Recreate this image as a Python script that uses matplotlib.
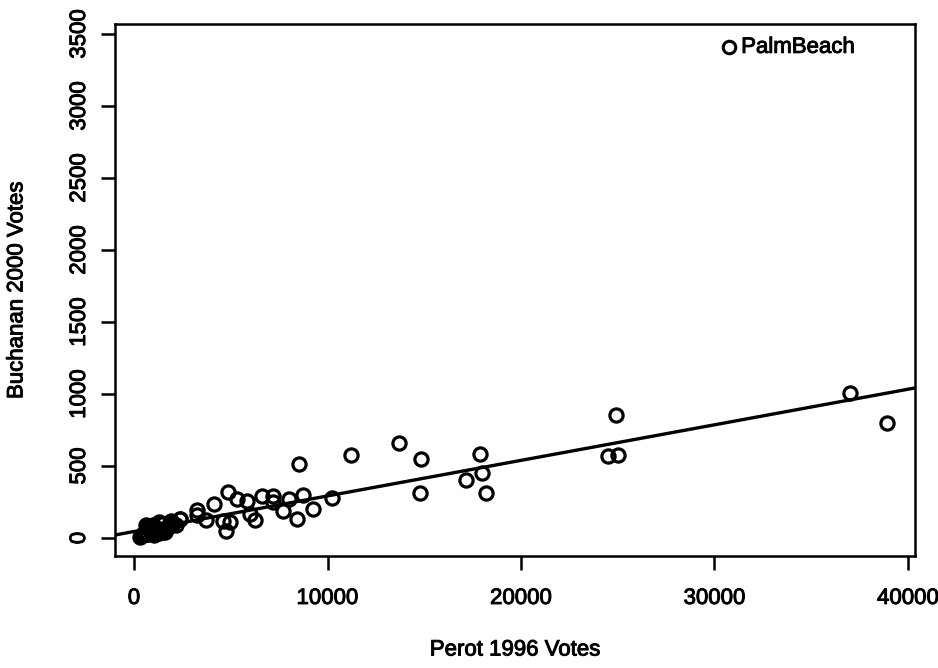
import numpy as np
import matplotlib.pyplot as plt
import matplotlib.patheffects as pe

plt.rcParams['font.family'] = ['Liberation Sans', 'DejaVu Sans']

# Perot 1996 vs Buchanan 2000 votes, Florida counties
perot = [
    37000, 38900, 24900, 24480, 25030, 13720, 14830, 17860, 18010, 17150,
    14800, 18190, 11230, 8516, 8720, 10240, 9270, 8440, 7700, 8000,
    7180, 7170, 6590, 5820, 5340, 4880, 4140, 4940, 4600, 4730,
    5970, 6245, 3260, 3230, 3700, 2390,
    316, 420, 440, 480, 520, 580, 630, 667, 690, 720,
    770, 820, 870, 970, 1010, 1050, 1100, 1120, 1270, 1280,
    1440, 1500, 1580, 1780, 1900, 1960, 1970, 2150, 2400, 1650,
]
buchanan = [
    1010, 800, 854, 570, 578, 660, 548, 580, 452, 406,
    310, 310, 573, 513, 298, 276, 200, 133, 185, 270,
    290, 250, 290, 254, 271, 318, 234, 112, 117, 50,
    170, 128, 195, 157, 122, 134,
    9, 23, 29, 22, 29, 29, 90, 73, 30, 27,
    76, 65, 37, 88, 22, 36, 76, 46, 38, 108,
    94, 43, 43, 83, 120, 102, 89, 90, 130, 60,
]

# Palm Beach outlier
pb_perot = 30739
pb_buchanan = 3407
pb_label = "PalmBeach"

# fitted line
fit_intercept = 45.0
fit_slope = 0.0247

xticks = [0, 10000, 20000, 30000, 40000]
yticks = [0, 500, 1000, 1500, 2000, 2500, 3000, 3500]

# scanned print look: slightly heavier text
thick = [pe.withStroke(linewidth=0.7, foreground='black')]
fs = 16

fig = plt.figure(figsize=(9.38, 6.68), dpi=100)
ax = fig.add_axes([115 / 938, 1 - 556 / 668, 800 / 938, 532 / 668])

ax.plot(perot, buchanan, 'o', mfc='none', mec='black', ms=9.5, mew=2.3)
ax.plot([pb_perot], [pb_buchanan], 'o', mfc='none', mec='black', ms=9, mew=2.2)
ax.text(pb_perot, pb_buchanan, "  " + pb_label, fontsize=fs, va='center', ha='left',
        path_effects=thick)

xlim = (-982, 40362)
ylim = (-125, 3569)
xs = np.array(xlim)
ax.plot(xs, fit_intercept + fit_slope * xs, color='black', lw=2.4)

ax.set_xlim(xlim)
ax.set_ylim(ylim)
ax.set_xticks(xticks)
ax.set_yticks(yticks)
ax.set_xticklabels([str(t) for t in xticks], fontsize=fs)
ax.set_yticklabels([str(t) for t in yticks], fontsize=fs, rotation=90, va='center')
for lab in ax.get_xticklabels() + ax.get_yticklabels():
    lab.set_path_effects(thick)
ax.tick_params(direction='out', length=10, width=1.8, pad=13)
ax.tick_params(axis='y', pad=8)
for s in ax.spines.values():
    s.set_linewidth(1.8)

ax.set_xlabel("Perot 1996 Votes", fontsize=fs, labelpad=22, path_effects=thick)
ax.set_ylabel("Buchanan 2000 Votes", fontsize=fs, labelpad=30, path_effects=thick)

fig.savefig("out.png", dpi=100)
